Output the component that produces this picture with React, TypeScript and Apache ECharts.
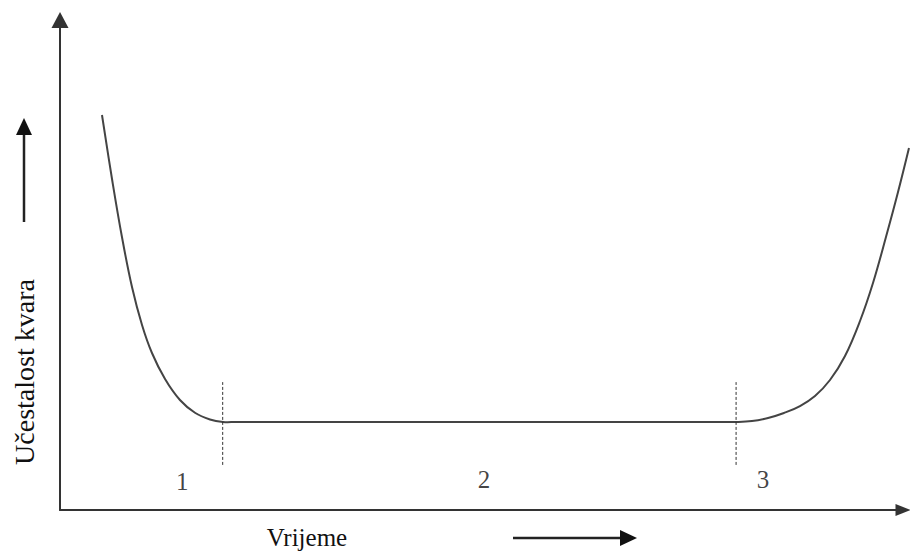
import React, { useEffect, useRef } from "react";
import * as echarts from "echarts";

// Bathtub curve: failure rate over time
const curveX = [4.98, 6.17, 7.35, 8.54, 9.73, 10.91, 12.46, 14.23, 16.01, 17.79, 19.34, 20.88, 50.06, 78.29, 80.19, 82.09, 83.99, 85.88, 87.78, 89.56, 91.34, 93.12, 94.9, 96.44, 97.98, 99.41, 100.71];
const curveY = [80.61, 67.55, 55.71, 45.51, 37.76, 32.04, 26.73, 22.45, 19.85, 18.47, 17.96, 17.96, 17.96, 17.96, 17.96, 18.16, 18.78, 19.8, 21.22, 23.27, 26.53, 31.43, 38.57, 46.33, 55.71, 64.9, 73.88];
const boundaryX = [19.3, 80.2];
const boundaryY = [9.2, 26.1];
const phaseLabels = ["1", "2", "3"];
const phaseLabelX = [14.5, 50.3, 83.4];
const phaseLabelY = [5.8, 6.2, 6.2];
const xAxisName = "Vrijeme";
const yAxisName = "Učestalost kvara";

const FONT = "'Liberation Serif', 'DejaVu Serif', serif";

export default function App() {
  const ref = useRef<HTMLDivElement>(null);
  useEffect(() => {
    if (!ref.current) return;
    const chart = echarts.init(ref.current, null, { renderer: "svg" });
    const curve = curveX.map((x, i) => [x, curveY[i]]);
    const dashed = boundaryX.map((x) => ({
      type: "line",
      data: [[x, boundaryY[0]], [x, boundaryY[1]]],
      symbol: "none",
      silent: true,
      lineStyle: { color: "#333", width: 1, type: [3, 2] },
    }));
    chart.setOption({
      animation: false,
      backgroundColor: "#fff",
      grid: { left: 60, right: 7, top: 20, bottom: 43 },
      xAxis: {
        type: "value",
        min: 0,
        max: 100,
        axisLine: {
          show: true,
          lineStyle: { color: "#333", width: 2 },
          symbol: ["none", "triangle"],
          symbolSize: [12, 15],
        },
        axisTick: { show: false },
        axisLabel: { show: false },
        splitLine: { show: false },
      },
      yAxis: {
        type: "value",
        min: 0,
        max: 100,
        axisLine: {
          show: true,
          lineStyle: { color: "#333", width: 2 },
          symbol: ["none", "triangle"],
          symbolSize: [17, 16],
        },
        axisTick: { show: false },
        axisLabel: { show: false },
        splitLine: { show: false },
      },
      series: [
        {
          type: "custom",
          coordinateSystem: "cartesian2d",
          data: curve,
          clip: false,
          silent: true,
          renderItem: (params: any, api: any) => {
            if (params.dataIndex !== 0) return null;
            const pts = curve.map((p) => api.coord(p));
            return {
              type: "polyline",
              shape: { points: pts, smooth: 0.4 },
              style: { stroke: "#444", lineWidth: 2, fill: "none" },
            };
          },
        },
        ...dashed,
        {
          type: "scatter",
          data: phaseLabelX.map((x, i) => ({ value: [x, phaseLabelY[i]], name: phaseLabels[i] })),
          symbolSize: 0,
          silent: true,
          label: {
            show: true,
            position: "inside",
            formatter: (p: any) => p.name,
            fontFamily: FONT,
            fontSize: 25,
            color: "#111",
          },
        },
      ],
      graphic: [
        {
          type: "text",
          x: 307,
          y: 537,
          style: {
            text: xAxisName,
            fontFamily: FONT,
            fontSize: 25,
            fill: "#111",
            align: "center",
            verticalAlign: "middle",
          },
        },
        {
          type: "text",
          x: 24,
          y: 372,
          rotation: Math.PI / 2,
          style: {
            text: yAxisName,
            fontFamily: FONT,
            fontSize: 28,
            fill: "#111",
            align: "center",
            verticalAlign: "middle",
          },
        },
        {
          type: "line",
          shape: { x1: 513, y1: 538, x2: 624, y2: 538 },
          style: { stroke: "#222", lineWidth: 2.5 },
        },
        {
          type: "polygon",
          shape: { points: [[620, 530], [637, 538], [620, 546]] },
          style: { fill: "#111" },
        },
        {
          type: "line",
          shape: { x1: 24, y1: 222, x2: 24, y2: 130 },
          style: { stroke: "#222", lineWidth: 2.5 },
        },
        {
          type: "polygon",
          shape: { points: [[16, 135], [24, 118], [32, 135]] },
          style: { fill: "#111" },
        },
      ],
    });
    return () => chart.dispose();
  }, []);
  return (
    <div
      ref={ref}
      style={{ position: "absolute", left: 0, top: 0, width: 910, height: 553 }}
    />
  );
}
